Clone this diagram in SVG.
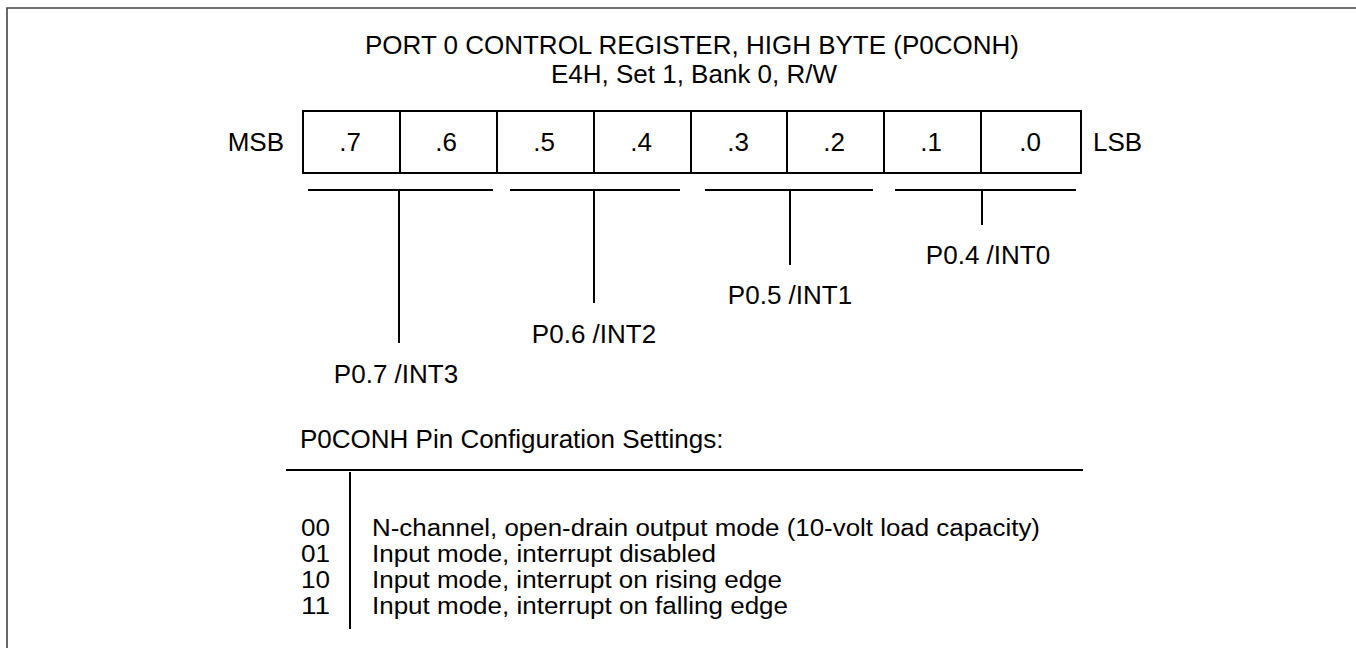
<svg xmlns="http://www.w3.org/2000/svg" width="1356" height="648" viewBox="0 0 1356 648">
  <style>
    text { font-family: "Liberation Sans", Arial, sans-serif; font-size: 26px; fill: #000; }
    .mid { text-anchor: middle; }
    .end { text-anchor: end; }
    .row { font-size: 23px; }
    .ln { stroke: #000; stroke-width: 2; fill: none; }
    .frame { stroke: #444; stroke-width: 1.6; fill: none; }
  </style>

  <!-- outer frame (open at right and bottom) -->
  <path class="frame" d="M7,648 V8 H1356"/>

  <!-- heading -->
  <g id="title">
    <text class="mid" x="692" y="54">PORT 0 CONTROL REGISTER, HIGH BYTE (P0CONH)</text>
    <text class="mid" x="694" y="83">E4H, Set 1, Bank 0, R/W</text>
  </g>

  <!-- register bit cells -->
  <g id="register">
    <rect class="ln" x="303" y="111" width="778" height="62"/>
    <path class="ln" d="M400,111 V173 M497,111 V173 M594,111 V173 M691,111 V173 M787,111 V173 M884,111 V173 M981,111 V173"/>
    <text class="end" x="284" y="151">MSB</text>
    <text x="1093" y="151">LSB</text>
    <text class="mid" x="350" y="151">.7</text>
    <text class="mid" x="446" y="151">.6</text>
    <text class="mid" x="544" y="151">.5</text>
    <text class="mid" x="641" y="151">.4</text>
    <text class="mid" x="738" y="151">.3</text>
    <text class="mid" x="834" y="151">.2</text>
    <text class="mid" x="931" y="151">.1</text>
    <text class="mid" x="1030" y="151">.0</text>
  </g>

  <!-- bit-pair brackets -->
  <g id="connectors">
    <path class="ln" d="M308,190 H493 M399,190 V343"/>
    <path class="ln" d="M510,190 H680 M594,190 V303"/>
    <path class="ln" d="M705,190 H873 M790,190 V265"/>
    <path class="ln" d="M895,190 H1076 M982,190 V225"/>
  </g>

  <g id="pin-p07"><text class="mid" x="396" y="383">P0.7 /INT3</text></g>
  <g id="pin-p06"><text class="mid" x="594" y="343">P0.6 /INT2</text></g>
  <g id="pin-p05"><text class="mid" x="790" y="304">P0.5 /INT1</text></g>
  <g id="pin-p04"><text class="mid" x="988" y="264">P0.4 /INT0</text></g>

  <!-- configuration table -->
  <g id="settings">
    <text x="300" y="448">P0CONH Pin Configuration Settings:</text>
    <path class="ln" d="M286,470 H1083 M350,472 V629"/>
    <text class="row" x="301" y="536" textLength="29" lengthAdjust="spacingAndGlyphs">00</text>
    <text class="row" x="301" y="562" textLength="29" lengthAdjust="spacingAndGlyphs">01</text>
    <text class="row" x="301" y="588" textLength="29" lengthAdjust="spacingAndGlyphs">10</text>
    <text class="row" x="301" y="614" textLength="29" lengthAdjust="spacingAndGlyphs">11</text>
    <text class="row" x="372" y="536" textLength="668" lengthAdjust="spacingAndGlyphs">N-channel, open-drain output mode (10-volt load capacity)</text>
    <text class="row" x="372" y="562" textLength="344" lengthAdjust="spacingAndGlyphs">Input mode, interrupt disabled</text>
    <text class="row" x="372" y="588" textLength="410" lengthAdjust="spacingAndGlyphs">Input mode, interrupt on rising edge</text>
    <text class="row" x="372" y="614" textLength="416" lengthAdjust="spacingAndGlyphs">Input mode, interrupt on falling edge</text>
  </g>
</svg>
